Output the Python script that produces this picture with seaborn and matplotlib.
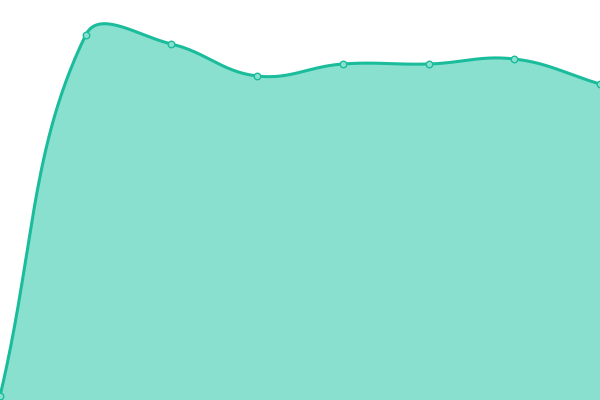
import numpy as np
import pandas as pd
import matplotlib
matplotlib.use("Agg")
import matplotlib.pyplot as plt
import seaborn as sns

categories = [0, 1, 2, 3, 4, 5, 6, 7]
values = [1.0, 91.25, 89.0, 81.0, 84.0, 84.0, 85.25, 79.0]

LINE = "#1abc9c"
FILL = "#8ae0cf"
TENSION = 0.4
SX, SY = 600 / 7, 4.0  # pixels per data unit, used only for curve shape


def smooth_curve(x, y, t_=TENSION, n=60):
    X = np.asarray(x, float) * SX
    Y = np.asarray(y, float) * SY
    k = len(X)
    cp_in = [None] * k
    cp_out = [None] * k
    for i in range(k):
        p = np.array([X[i], Y[i]])
        prev = np.array([X[i - 1], Y[i - 1]]) if i > 0 else p
        nxt = np.array([X[i + 1], Y[i + 1]]) if i < k - 1 else p
        v = nxt - prev
        d0 = np.hypot(*(p - prev))
        d1 = np.hypot(*(nxt - p))
        tot = d0 + d1
        s01 = d0 / tot if tot else 0
        s12 = d1 / tot if tot else 0
        cp_in[i] = p - v * t_ * s01
        cp_out[i] = p + v * t_ * s12
    xs, ys = [], []
    t = np.linspace(0, 1, n)[:, None]
    for i in range(k - 1):
        p0 = np.array([X[i], Y[i]])
        p3 = np.array([X[i + 1], Y[i + 1]])
        p1, p2 = cp_out[i], cp_in[i + 1]
        b = ((1 - t) ** 3) * p0 + 3 * ((1 - t) ** 2) * t * p1 + 3 * (1 - t) * t ** 2 * p2 + t ** 3 * p3
        xs.append(b[:, 0])
        ys.append(b[:, 1])
    return np.concatenate(xs) / SX, np.concatenate(ys) / SY


sns.set_theme(style="white")
fig = plt.figure(figsize=(6, 4), dpi=100)
ax = fig.add_axes([0, 0, 1, 1])

xs, ys = smooth_curve(categories, values)
pts = pd.DataFrame({"x": categories, "y": values})

ax.fill_between(xs, 0, ys, color=FILL, linewidth=0, zorder=1)
ax.plot(xs, ys, color=LINE, linewidth=2.2, zorder=2, solid_capstyle="round")
sns.scatterplot(data=pts, x="x", y="y", ax=ax, s=22, color=FILL,
                edgecolor=LINE, linewidth=1.0, zorder=3)

ax.set_xlim(0, 7)
ax.set_ylim(0, 100)
ax.axis("off")
fig.savefig("out.png", dpi=100)
